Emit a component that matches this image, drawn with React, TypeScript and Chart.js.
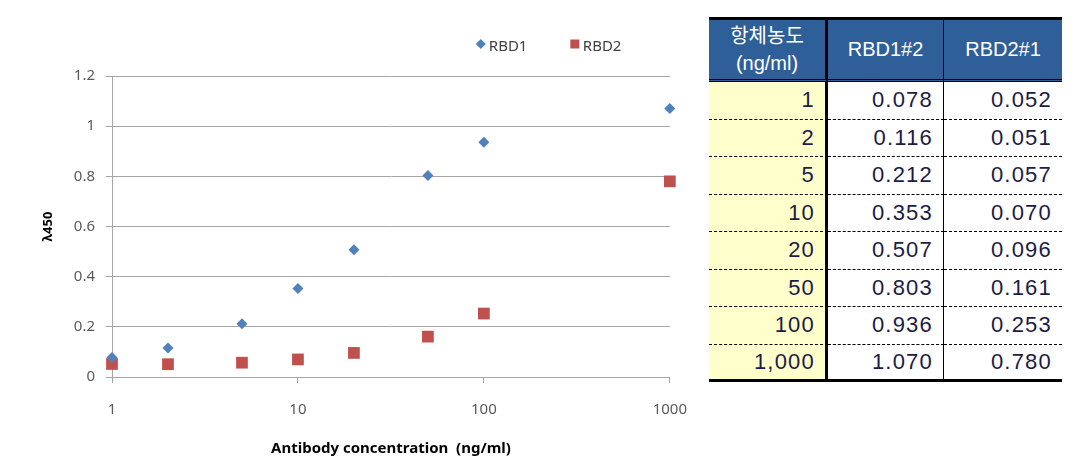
import React, { useEffect, useRef } from 'react';
import { Chart, registerables } from 'chart.js';

Chart.register(...registerables);

// ---- data ----
const concentrations = [1, 2, 5, 10, 20, 50, 100, 1000];
const rbd1Values = [0.078, 0.116, 0.212, 0.353, 0.507, 0.803, 0.936, 1.07];
const rbd2Values = [0.052, 0.051, 0.057, 0.07, 0.096, 0.161, 0.253, 0.78];
const seriesNames = ['RBD1', 'RBD2'];
const tableHeaderLines = ['항체농도', '(ng/ml)'];
const tableSeriesHeaders = ['RBD1#2', 'RBD2#1'];
const xTickValues = [1, 10, 100, 1000];
const yMin = 0;
const yMax = 1.2;
const yStep = 0.2;
const xTitle = 'Antibody concentration  (ng/ml)';
const yTitle = 'λ450';

const BLUE = '#4F81BD';
const RED = '#C0504D';
const GRID = '#A6A6A6';
const FONT = '"Noto Sans", "Open Sans", sans-serif';
const CANVAS_W = 705;
const CANVAS_H = 469;

const excelLegend = {
  id: 'excelLegend',
  afterDraw(chart: any, _args: any, opts: any) {
    const { ctx, chartArea } = chart;
    ctx.save();
    ctx.font = `${opts.size}px ${opts.family}`;
    ctx.textBaseline = 'middle';
    ctx.textAlign = 'left';
    chart.data.datasets.forEach((ds: any, i: number) => {
      const cx = chartArea.right + opts.offsets[i];
      const cy = opts.markerY;
      ctx.fillStyle = ds.backgroundColor;
      ctx.beginPath();
      if (ds.pointStyle === 'rectRot') {
        const r = 5;
        ctx.moveTo(cx, cy - r);
        ctx.lineTo(cx + r, cy);
        ctx.lineTo(cx, cy + r);
        ctx.lineTo(cx - r, cy);
        ctx.closePath();
      } else {
        ctx.rect(cx - 4.5, cy - 4.5, 9, 9);
      }
      ctx.fill();
      ctx.fillStyle = opts.color;
      ctx.fillText(ds.label, cx + opts.textGap, opts.textY);
    });
    ctx.restore();
  },
};

function ChartPanel() {
  const ref = useRef<HTMLCanvasElement | null>(null);
  useEffect(() => {
    if (!ref.current) return;
    const chart = new Chart(ref.current, {
      type: 'scatter',
      data: {
        datasets: [
          {
            label: seriesNames[0],
            data: concentrations.map((c, i) => ({ x: c, y: rbd1Values[i] })),
            pointStyle: 'rectRot',
            radius: 5.5,
            backgroundColor: BLUE,
            borderColor: BLUE,
            borderWidth: 0,
            clip: false,
          },
          {
            label: seriesNames[1],
            data: concentrations.map((c, i) => ({ x: c, y: rbd2Values[i] })),
            pointStyle: 'rect',
            radius: 8.3,
            backgroundColor: RED,
            borderColor: RED,
            borderWidth: 0,
            clip: false,
          },
        ],
      },
      options: {
        responsive: false,
        animation: false,
        layout: { padding: { left: 0, right: 20, top: 76, bottom: 0 } },
        plugins: {
          legend: { display: false },
          tooltip: { enabled: false },
          excelLegend: {
            offsets: [-189, -95],
            markerY: 44,
            textY: 47,
            textGap: 8,
            size: 15,
            family: FONT,
            color: '#404040',
          },
        } as any,
        scales: {
          x: {
            type: 'logarithmic',
            min: xTickValues[0],
            max: xTickValues[xTickValues.length - 1],
            afterBuildTicks: (s: any) => {
              s.ticks = xTickValues.map((v) => ({ value: v }));
            },
            afterFit: (s: any) => {
              s.height = 92;
            },
            ticks: {
              autoSkip: false,
              maxRotation: 0,
              padding: 18,
              color: '#595959',
              font: { family: FONT, size: 15 },
              callback: (v: any) => String(v),
            },
            grid: { drawOnChartArea: false, drawTicks: true, tickLength: 6, color: GRID },
            border: { display: true, color: GRID },
            title: {
              display: true,
              text: xTitle,
              color: '#000',
              font: { family: FONT, size: 15, weight: 'bold' },
              padding: { top: 0, bottom: 11 },
            },
          },
          y: {
            min: yMin,
            max: yMax,
            afterFit: (s: any) => {
              s.width = 112;
            },
            ticks: {
              stepSize: yStep,
              padding: 11,
              color: '#595959',
              font: { family: FONT, size: 15 },
              callback: (v: any) => String(parseFloat(Number(v).toFixed(1))),
            },
            grid: { color: GRID, tickLength: 6 },
            border: { display: true, color: GRID },
            title: {
              display: true,
              text: yTitle,
              color: '#000',
              font: { family: FONT, size: 13, weight: 'bold' },
              padding: { top: 40, bottom: 0 },
            },
          },
        },
      } as any,
      plugins: [excelLegend],
    });
    return () => chart.destroy();
  }, []);
  return (
    <canvas
      ref={ref}
      width={CANVAS_W}
      height={CANVAS_H}
      style={{ position: 'absolute', left: 0, top: 0, width: CANVAS_W, height: CANVAS_H }}
    />
  );
}

const TFONT = '"Liberation Sans", Arial, "Noto Sans CJK KR", sans-serif';

function DataTable() {
  const headBase: React.CSSProperties = {
    background: '#2F5F98',
    color: '#fff',
    fontFamily: TFONT,
    fontSize: 20,
    fontWeight: 'normal',
    textAlign: 'center',
    verticalAlign: 'middle',
    padding: 0,
    boxSizing: 'border-box',
    height: 65,
    borderTop: '3px solid #000',
    borderBottom: '3px double #000',
    lineHeight: '27px',
  };
  const cellBase: React.CSSProperties = {
    fontFamily: TFONT,
    fontSize: 22,
    letterSpacing: 1.2,
    color: '#1c1c44',
    textAlign: 'right',
    verticalAlign: 'middle',
    padding: '0 10px 0 0',
    boxSizing: 'border-box',
    height: 37.5,
    lineHeight: '24px',
  };
  return (
    <table
      style={{
        position: 'absolute',
        left: 709,
        top: 17,
        width: 353,
        borderCollapse: 'separate',
        borderSpacing: 0,
        tableLayout: 'fixed',
      }}
    >
      <colgroup>
        <col style={{ width: 119 }} />
        <col style={{ width: 116 }} />
        <col style={{ width: 118 }} />
      </colgroup>
      <thead>
        <tr>
          <th style={{ ...headBase, borderRight: '3px solid #000' }}>
            {tableHeaderLines[0]}
            <br />
            {tableHeaderLines[1]}
          </th>
          <th style={{ ...headBase, borderRight: '1px solid #000' }}>{tableSeriesHeaders[0]}</th>
          <th style={headBase}>{tableSeriesHeaders[1]}</th>
        </tr>
      </thead>
      <tbody>
        {concentrations.map((c, i) => {
          const last = i === concentrations.length - 1;
          const bottom = last ? '3px solid #000' : '1px dashed #000';
          return (
            <tr key={c}>
              <td style={{ ...cellBase, background: '#FFFFCC', borderRight: '3px solid #000', borderBottom: bottom }}>
                {c.toLocaleString('en-US')}
              </td>
              <td style={{ ...cellBase, background: '#fff', borderRight: '1px solid #000', borderBottom: bottom }}>
                {rbd1Values[i].toFixed(3)}
              </td>
              <td style={{ ...cellBase, background: '#fff', borderBottom: bottom }}>{rbd2Values[i].toFixed(3)}</td>
            </tr>
          );
        })}
      </tbody>
    </table>
  );
}

export default function App() {
  return (
    <div style={{ position: 'absolute', left: 0, top: 0, width: 1083, height: 469, background: '#fff' }}>
      <ChartPanel />
      <DataTable />
    </div>
  );
}
